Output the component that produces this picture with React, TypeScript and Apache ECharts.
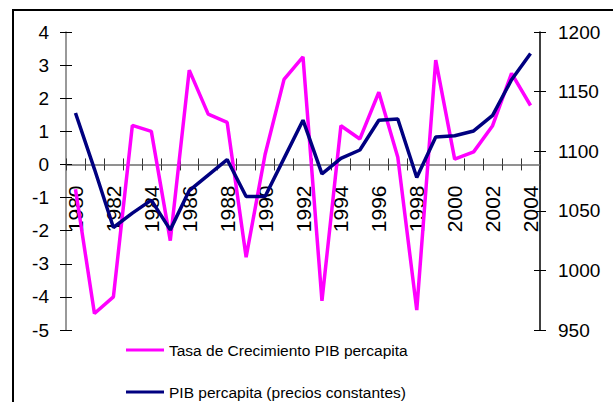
import React, { useEffect, useRef } from "react";
import * as echarts from "echarts";

const years = [
  "1980", "1981", "1982", "1983", "1984", "1985", "1986", "1987", "1988", "1989",
  "1990", "1991", "1992", "1993", "1994", "1995", "1996", "1997", "1998", "1999",
  "2000", "2001", "2002", "2003", "2004",
];
const tasaCrecimiento = [
  -0.75, -4.5, -4.0, 1.18, 1.0, -2.3, 2.85, 1.52, 1.27, -2.8,
  0.3, 2.57, 3.25, -4.12, 1.17, 0.77, 2.18, 0.22, -4.4, 3.15,
  0.16, 0.38, 1.17, 2.75, 1.78,
];
const pibPercapita = [
  1132, 1085, 1036, 1048, 1059, 1034, 1067, 1080, 1093, 1062,
  1062, 1094, 1126, 1081, 1094, 1101, 1126, 1127, 1078, 1112,
  1113, 1117, 1130, 1160, 1182,
];
const seriesNames = [
  "Tasa de Crecimiento PIB percapita",
  "PIB percapita (precios constantes)",
];
const leftMin = -5;
const leftMax = 4;
const rightMin = 950;
const rightMax = 1200;

const FONT = "'Liberation Sans', Arial, sans-serif";

const W = 613;
const H = 402;
const GRID = { left: 66, right: 73, top: 32, bottom: 72 };

export default function App() {
  const ref = useRef<HTMLDivElement>(null);
  useEffect(() => {
    if (!ref.current) return;
    const chart = echarts.init(ref.current, null, { renderer: "svg" });
    const gridH = H - GRID.top - GRID.bottom;
    const zeroFromBottom = (gridH * (0 - leftMin)) / (leftMax - leftMin);
    const xOffset = -zeroFromBottom;
    const tickCross = { show: true, length: 6, lineStyle: { color: "#000", width: 1 } };
    const plain = (v: number) => String(v);
    chart.setOption({
      animation: false,
      backgroundColor: "#fff",
      grid: { ...GRID, containLabel: false },
      legend: {
        orient: "vertical",
        left: 126,
        top: 341,
        height: 80,
        padding: 0,
        itemWidth: 38,
        itemHeight: 3,
        itemGap: 24,
        icon: "rect",
        data: seriesNames,
        textStyle: { fontFamily: FONT, fontSize: 15.5, color: "#000", lineHeight: 18 },
      },
      graphic: [
        {
          type: "rect",
          shape: { x: 13, y: 10, width: 800, height: 600 },
          style: { fill: "none", stroke: "#000", lineWidth: 2 },
          silent: true,
        },
      ],
      xAxis: [
        {
          type: "category",
          data: years,
          boundaryGap: true,
          position: "bottom",
          offset: xOffset,
          axisLine: { show: true, onZero: false, lineStyle: { color: "#6e6e6e", width: 1.5 } },
          axisTick: { show: true, interval: 0, length: 6, lineStyle: { color: "#333" } },
          axisLabel: {
            interval: 1,
            rotate: 90,
            margin: 21,
            fontFamily: FONT,
            fontSize: 21,
            color: "#000",
          },
          splitLine: { show: false },
        },
        {
          type: "category",
          data: years,
          boundaryGap: true,
          position: "bottom",
          offset: xOffset,
          axisLine: { show: false, onZero: false },
          axisTick: { show: true, inside: true, interval: 0, length: 6, lineStyle: { color: "#333" } },
          axisLabel: { show: false },
          splitLine: { show: false },
        },
      ],
      yAxis: [
        {
          type: "value",
          position: "left",
          min: leftMin,
          max: leftMax,
          interval: 1,
          axisLine: { show: true, onZero: false, lineStyle: { color: "#777", width: 1.5 } },
          axisTick: tickCross,
          axisLabel: { margin: 17, fontFamily: FONT, fontSize: 19, color: "#000", formatter: plain },
          splitLine: { show: false },
        },
        {
          type: "value",
          position: "right",
          min: rightMin,
          max: rightMax,
          interval: 50,
          axisLine: { show: true, onZero: false, lineStyle: { color: "#000", width: 1.5 } },
          axisTick: tickCross,
          axisLabel: { margin: 18, fontFamily: FONT, fontSize: 19, color: "#000", formatter: plain },
          splitLine: { show: false },
        },
        {
          type: "value",
          position: "left",
          min: leftMin,
          max: leftMax,
          interval: 1,
          axisLine: { show: false, onZero: false },
          axisTick: { ...tickCross, inside: true },
          axisLabel: { show: false },
          splitLine: { show: false },
        },
        {
          type: "value",
          position: "right",
          min: rightMin,
          max: rightMax,
          interval: 50,
          axisLine: { show: false, onZero: false },
          axisTick: { ...tickCross, inside: true },
          axisLabel: { show: false },
          splitLine: { show: false },
        },
      ],
      series: [
        {
          name: seriesNames[0],
          type: "line",
          xAxisIndex: 0,
          yAxisIndex: 0,
          data: tasaCrecimiento,
          showSymbol: false,
          symbol: "none",
          lineStyle: { color: "#FF00FF", width: 3.5 },
          itemStyle: { color: "#FF00FF" },
          z: 2,
        },
        {
          name: seriesNames[1],
          type: "line",
          xAxisIndex: 0,
          yAxisIndex: 1,
          data: pibPercapita,
          showSymbol: false,
          symbol: "none",
          lineStyle: { color: "#000080", width: 3.5 },
          itemStyle: { color: "#000080" },
          z: 3,
        },
      ],
    });
    return () => chart.dispose();
  }, []);
  return (
    <div
      ref={ref}
      style={{ position: "fixed", left: 0, top: 0, width: W, height: H, background: "#fff" }}
    />
  );
}
